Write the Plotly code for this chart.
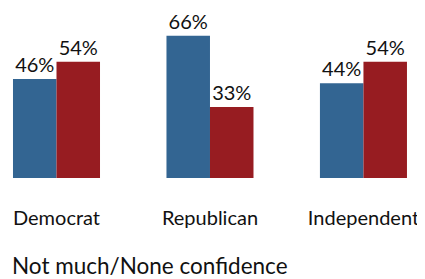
import plotly.graph_objects as go

categories = ["Democrat", "Republican", "Independent"]
series_a_name = "Great deal/Fair amount confidence"
series_a = [46, 66, 44]
series_b_name = "Not much/None confidence"
series_b = [54, 33, 54]

xpos = list(range(len(categories)))
blue = "#336592"
red = "#971c21"
font_family = "Lato, Noto Sans, sans-serif"

fig = go.Figure()
fig.add_trace(go.Bar(
    x=xpos, y=series_a, name=series_a_name, marker_color=blue,
    marker_line_width=0,
    text=[f"{v}%" for v in series_a], textposition="outside",
    textfont=dict(size=20, color="#111111", family=font_family),
    cliponaxis=False,
))
fig.add_trace(go.Bar(
    x=xpos, y=series_b, name=series_b_name, marker_color=red,
    marker_line_width=0,
    text=[f"{v}%" for v in series_b], textposition="outside",
    textfont=dict(size=20, color="#111111", family=font_family),
    cliponaxis=False,
))

fig.update_layout(
    width=417, height=271,
    margin=dict(l=0, r=0, t=0, b=101, autoexpand=False),
    barmode="group", bargap=0.433, bargroupgap=0,
    plot_bgcolor="white", paper_bgcolor="white",
    showlegend=False,
    font=dict(family=font_family, color="#111111"),
    xaxis=dict(
        tickmode="array", tickvals=xpos, ticktext=categories,
        range=[-0.316, 2.401], showgrid=False, zeroline=False, showline=False,
        ticks="", tickfont=dict(size=20, color="#111111"),
        ticklabelstandoff=26, fixedrange=True, automargin=False,
    ),
    yaxis=dict(range=[0, 78.9], visible=False, fixedrange=True, automargin=False),
    annotations=[dict(
        text=series_b_name, xref="paper", yref="paper",
        x=0, y=-0.517, xanchor="left", yanchor="middle",
        xshift=2, showarrow=False,
        font=dict(size=22.5, color="#111111", family=font_family),
    )],
)

fig.write_html("out.html")
